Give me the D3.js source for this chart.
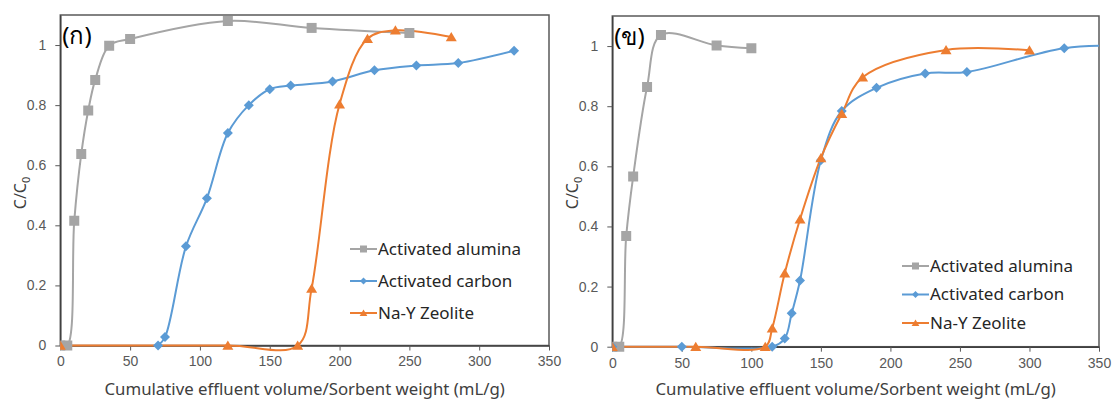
<!DOCTYPE html>
<html>
<head>
<meta charset="utf-8">
<script src="https://cdn.jsdelivr.net/npm/d3@7"></script>
<style>
    body { margin: 0; background: #fff; }
    svg { display: block; font-family: "Noto Sans", "DejaVu Sans", sans-serif; }
    .tick text { fill: #595959; font-size: 14px; }
    .tick line { stroke: #595959; }
    .domain { stroke: #404040; }
</style>
</head>
<body>
<svg id="chart" width="1112" height="403"></svg>
<script>
    // panel (ก)
    const aluminaA = [[0,0],[5,0],[10,0.415],[15,0.637],[20,0.782],[25,0.884],[35,0.998],[50,1.02],[120,1.08],[180,1.057],[250,1.04]];
    const carbonA = [[70,0],[75,0.028],[90,0.33],[105,0.49],[120,0.707],[135,0.8],[150,0.853],[165,0.865],[195,0.879],[225,0.916],[255,0.932],[285,0.94],[325,0.981]];
    const zeoliteA = [[0,0],[120,0],[170,0],[180,0.19],[200,0.803],[220,1.021],[240,1.049],[280,1.027]];

    // panel (ข)
    const aluminaB = [[0,0],[5,0],[10,0.368],[15,0.566],[25,0.864],[35,1.037],[75,1.002],[100,0.993]];
    const carbonB = [[0,0],[50,0],[115,0],[124,0.027],[129,0.111],[135,0.22],[150,0.62],[165,0.784],[190,0.861],[225,0.909],[255,0.914],[325,0.993],[375,1.0]];
    const zeoliteB = [[0,0],[60,0],[110,0],[115,0.061],[124,0.244],[135,0.424],[150,0.628],[165,0.775],[180,0.896],[240,0.987],[300,0.986]];

    const seriesNames = ["Activated alumina", "Activated carbon", "Na-Y Zeolite"];
    const seriesColors = ["#a5a5a5", "#5b9bd5", "#ed7d31"];
    const seriesMarkers = ["square", "diamond", "triangle"];

    const xTicks = [0, 50, 100, 150, 200, 250, 300, 350];
    const yTicks = [0, 0.2, 0.4, 0.6, 0.8, 1];

    const svg = d3.select("#chart");

    function markerPath(type, s) {
        if (type === "square") {
            return `M${-s},${-s}H${s}V${s}H${-s}Z`;
        }
        if (type === "diamond") {
            return `M0,${-s}L${s},0L0,${s}L${-s},0Z`;
        }
        return `M0,${-s}L${s * 1.1},${s * 0.85}L${-s * 1.1},${s * 0.85}Z`;
    }

    function drawPanel(opt) {
        let x = d3.scaleLinear().domain([0, 350]).range([opt.left, opt.right]);
        let y = d3.scaleLinear().domain([0, 1.1]).range([opt.bottom, opt.top]);
        let g = svg.append("g");

        let clipId = "clip" + opt.id;
        g.append("clipPath").attr("id", clipId)
            .append("rect")
                .attr("x", opt.left).attr("y", 0)
                .attr("width", opt.right - opt.left).attr("height", opt.bottom + 20);

        // plot box
        g.append("rect")
            .attr("x", opt.left).attr("y", opt.top)
            .attr("width", opt.right - opt.left).attr("height", opt.bottom - opt.top)
            .attr("fill", "none").attr("stroke", "#595959").attr("stroke-width", 1.5);

        g.append("g")
            .attr("transform", "translate(0," + opt.bottom + ")")
            .call(d3.axisBottom(x).tickValues(xTicks).tickSize(5).tickSizeOuter(0).tickPadding(6))
            .call(a => a.select(".domain").attr("stroke-width", 1.5));
        g.append("g")
            .attr("transform", "translate(" + opt.left + ",0)")
            .call(d3.axisLeft(y).tickValues(yTicks).tickSize(5).tickSizeOuter(0).tickPadding(9).tickFormat(d3.format("~g")))
            .call(a => a.select(".domain").attr("stroke-width", 1.5));

        let line = d3.line()
            .x(d => x(d[0]))
            .y(d => y(d[1]))
            .curve(d3.curveCatmullRom.alpha(0.5));

        let plot = g.append("g").attr("clip-path", "url(#" + clipId + ")");
        opt.series.forEach((data, i) => {
            plot.append("path")
                .datum(data)
                .attr("d", line)
                .attr("fill", "none")
                .attr("stroke", seriesColors[i])
                .attr("stroke-width", 2);
        });
        opt.series.forEach((data, i) => {
            plot.append("g").selectAll("path")
                .data(data)
                .join("path")
                    .attr("transform", d => "translate(" + x(d[0]) + "," + y(d[1]) + ")")
                    .attr("d", markerPath(seriesMarkers[i], 5))
                    .attr("fill", seriesColors[i]);
        });

        // panel label
        g.append("text")
            .attr("x", opt.left + 2).attr("y", opt.top + 29)
            .attr("font-size", 24).attr("fill", "#000")
            .text(opt.label);

        // axis titles
        g.append("text")
            .attr("x", (opt.left + opt.right) / 2).attr("y", 395)
            .attr("text-anchor", "middle")
            .attr("font-size", 16.8).attr("fill", "#404040")
            .text("Cumulative effluent volume/Sorbent weight (mL/g)");
        let yt = g.append("text")
            .attr("transform", "translate(" + (opt.left - 34) + "," + 193 + ") rotate(-90)")
            .attr("text-anchor", "middle")
            .attr("font-size", 16).attr("fill", "#404040");
        yt.append("tspan").text("C/C");
        yt.append("tspan").attr("font-size", 11).attr("dy", 4).text("0");

        // legend
        let lg = g.append("g");
        seriesNames.forEach((name, i) => {
            let ly = opt.legendY + i * opt.legendStep;
            lg.append("line")
                .attr("x1", opt.legendX).attr("x2", opt.legendX + 27)
                .attr("y1", ly).attr("y2", ly)
                .attr("stroke", seriesColors[i]).attr("stroke-width", 2);
            lg.append("path")
                .attr("transform", "translate(" + (opt.legendX + 13.5) + "," + ly + ")")
                .attr("d", markerPath(seriesMarkers[i], 3.5))
                .attr("fill", seriesColors[i]);
            lg.append("text")
                .attr("x", opt.legendX + 28).attr("y", ly)
                .attr("dy", "0.35em")
                .attr("font-size", 17).attr("fill", "#262626")
                .text(name);
        });
    }

    drawPanel({
        id: "a", label: "(ก)",
        left: 60.3, right: 549, top: 15, bottom: 345.5,
        series: [aluminaA, carbonA, zeoliteA],
        legendX: 350, legendY: 249, legendStep: 32
    });
    drawPanel({
        id: "b", label: "(ข)",
        left: 612.3, right: 1099, top: 16, bottom: 346.7,
        series: [aluminaB, carbonB, zeoliteB],
        legendX: 902, legendY: 266, legendStep: 28.5
    });
</script>
</body>
</html>
